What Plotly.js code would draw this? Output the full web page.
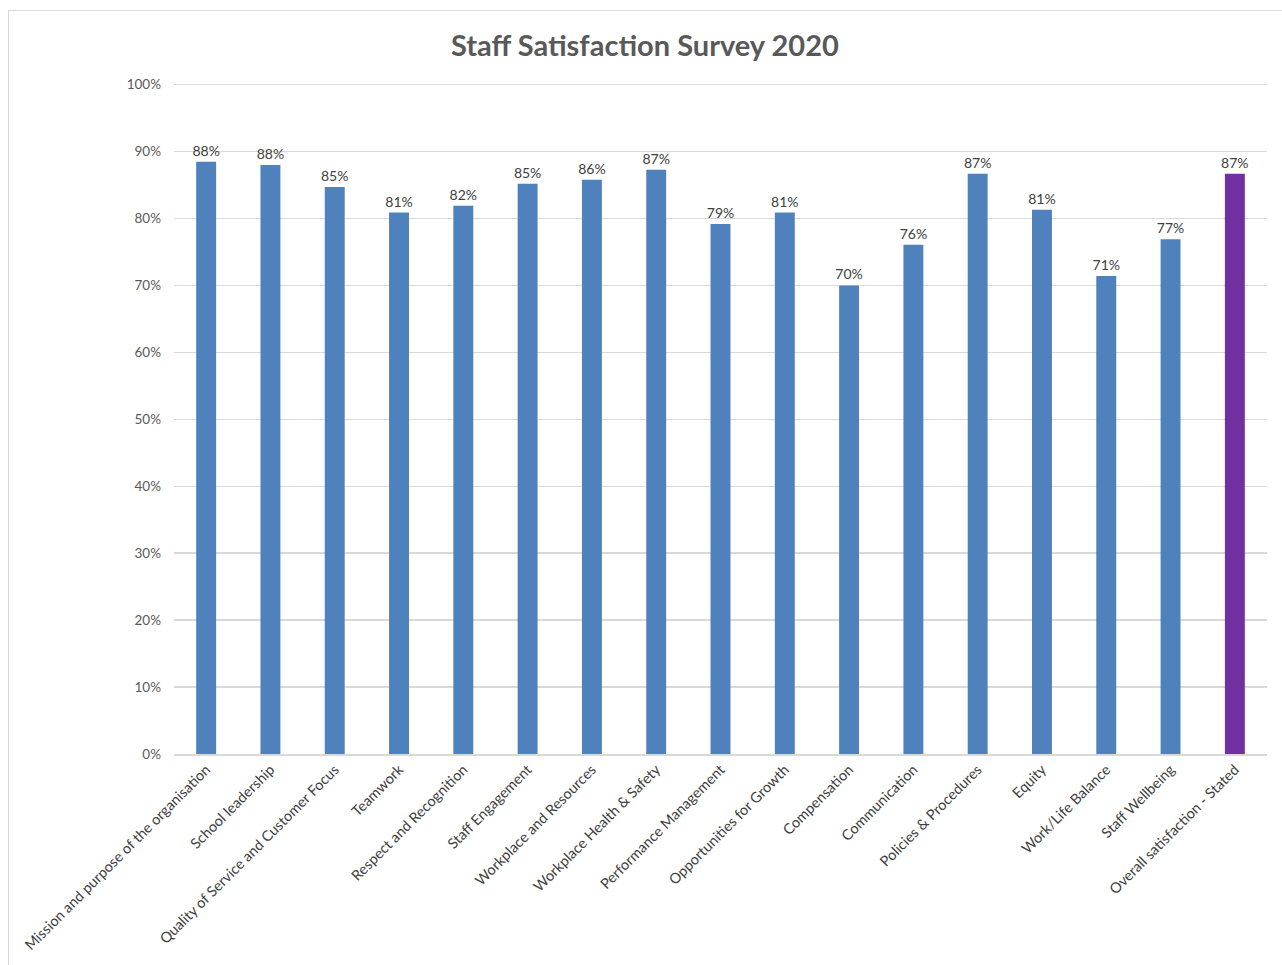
<!DOCTYPE html>
<html>
<head>
<meta charset="utf-8">
<script src="https://cdn.plot.ly/plotly-3.0.1.min.js"></script>
<style>
html,body{margin:0;padding:0;background:#fff;overflow:hidden;}
#chart{width:1282px;height:965px;}
#frame{position:absolute;left:8px;top:10px;width:1290px;height:970px;border:1.5px solid #d9d9d9;pointer-events:none;}
</style>
</head>
<body>
<div id="chart"></div>
<div id="frame"></div>
<script>
const categories = [
  "Mission and purpose of the organisation",
  "School leadership",
  "Quality of Service and Customer Focus",
  "Teamwork",
  "Respect and Recognition",
  "Staff Engagement",
  "Workplace and Resources",
  "Workplace Health & Safety",
  "Performance Management",
  "Opportunities for Growth",
  "Compensation",
  "Communication",
  "Policies & Procedures",
  "Equity",
  "Work/Life Balance",
  "Staff Wellbeing",
  "Overall satisfaction - Stated"
];
const values = [0.885, 0.880, 0.847, 0.809, 0.819, 0.852, 0.858, 0.873, 0.792, 0.809, 0.700, 0.761, 0.867, 0.813, 0.714, 0.769, 0.867];
const labels = ["88%","88%","85%","81%","82%","85%","86%","87%","79%","81%","70%","76%","87%","81%","71%","77%","87%"];
const barColor = "#4f81bd";
const highlightColor = "#7030a0";
const colors = categories.map((c, i) => i === categories.length - 1 ? highlightColor : barColor);

const trace = {
  type: "bar",
  x: categories,
  y: values,
  marker: {color: colors},
  width: 0.31,
  text: labels,
  textposition: "outside",
  constraintext: "none",
  cliponaxis: false,
  textfont: {family: "Lato, 'Open Sans', sans-serif", size: 14, color: "#404040"},
  hoverinfo: "x+y"
};

const layout = {
  width: 1282,
  height: 965,
  margin: {l: 174, r: 15, t: 78, b: 211},
  paper_bgcolor: "#ffffff",
  plot_bgcolor: "#ffffff",
  showlegend: false,
  title: {
    text: "<b>Staff Satisfaction Survey 2020</b>",
    x: 0.503, xanchor: "center",
    y: 0.953, yanchor: "middle",
    font: {family: "Lato, 'Open Sans', sans-serif", size: 29, color: "#595959"}
  },
  xaxis: {
    type: "category",
    tickangle: -45,
    tickfont: {family: "Lato, 'Open Sans', sans-serif", size: 14.5, color: "#404040"},
    showgrid: false,
    showline: true,
    linecolor: "#d9d9d9",
    linewidth: 1.5,
    ticks: "",
    automargin: false
  },
  yaxis: {
    range: [0, 1.01],
    tickvals: [0, 0.1, 0.2, 0.3, 0.4, 0.5, 0.6, 0.7, 0.8, 0.9, 1.0],
    tickmode: "array",
    tickformat: ".0%",
    tickfont: {family: "Lato, 'Open Sans', sans-serif", size: 13.5, color: "#595959"},
    showgrid: true,
    gridcolor: "#d9d9d9",
    gridwidth: 1.5,
    zeroline: false,
    showline: false,
    ticks: "",
    ticklabelstandoff: 12,
    automargin: false
  },
  bargap: 0.69
};

Plotly.newPlot("chart", [trace], layout, {displayModeBar: false, staticPlot: true});
</script>
</body>
</html>
